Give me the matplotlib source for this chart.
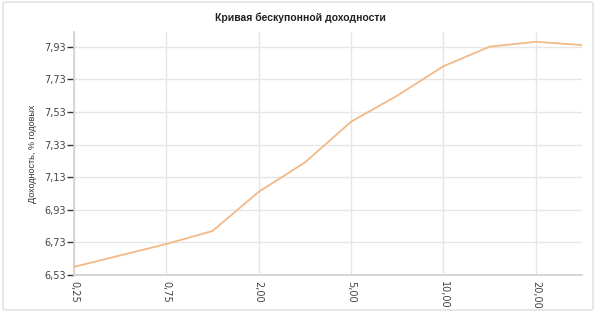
import matplotlib
matplotlib.use("Agg")
import matplotlib.pyplot as plt
import numpy as np
from matplotlib.patches import FancyBboxPatch

terms = [0.25, 0.5, 0.75, 1.0, 2.0, 3.0, 5.0, 7.0, 10.0, 15.0, 20.0, 30.0]
yields = [6.58, 6.65, 6.72, 6.80, 7.04, 7.22, 7.47, 7.63, 7.81, 7.93, 7.96, 7.94]
y_ticks = [6.53, 6.73, 6.93, 7.13, 7.33, 7.53, 7.73, 7.93]
title = "Кривая бескупонной доходности"
ylabel = "Доходность, % годовых"

fig = plt.figure(figsize=(6.0, 3.19), dpi=100)
fig.patch.set_facecolor("white")

border = FancyBboxPatch((3/600, 1 - 310/319), (593-3)/600, (310-2)/319,
                        boxstyle="round,pad=0,rounding_size=0.005",
                        transform=fig.transFigure, facecolor="none",
                        edgecolor="#e4e4e4", linewidth=1.2, zorder=-1)
fig.patches.append(border)

ax = fig.add_axes([74/600, 1 - 275/319, (582-74)/600, (275-32)/319])
ax.set_facecolor("none")
ax.set_zorder(2)
x = np.arange(len(terms))
ax.plot(x, yields, color="#f3b985", linewidth=1.3, zorder=3)

ax.set_xlim(0, len(terms) - 1)
ax.set_ylim(6.53, 8.02)

xt = x[::2]
ax.set_xticks(xt)
ax.set_xticklabels([f"{terms[i]:.2f}".replace(".", ",") for i in xt],
                   rotation=-90, fontsize=7, color="#444444")
ax.set_yticks(y_ticks)
ax.set_yticklabels([f"{v:.2f}".replace(".", ",") for v in y_ticks],
                   fontsize=7, color="#444444")
ax.tick_params(axis="x", length=0, pad=4)
ax.tick_params(axis="y", length=5, width=1.0, color="#333333", pad=1)

ax.grid(True, color="#e6e6e6", linewidth=1.0, zorder=0)
ax.set_axisbelow(True)
for s in ["top", "right"]:
    ax.spines[s].set_visible(False)
for s in ["left", "bottom"]:
    ax.spines[s].set_color("#d0d0d0")
    ax.spines[s].set_linewidth(1.2)

ax.set_ylabel(ylabel, fontsize=6.5, family="Liberation Sans",
              color="#333333", labelpad=5)
fig.text(0.5, 1 - 18/319, title, ha="center", va="center",
         fontsize=7.5, fontweight="bold", family="Liberation Sans",
         color="#222222")

fig.savefig("out.png", dpi=100)
